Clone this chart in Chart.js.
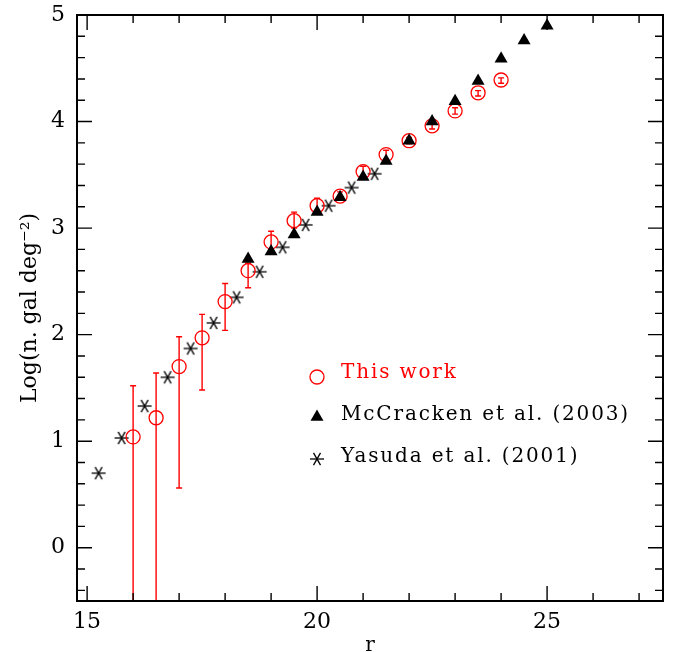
<!DOCTYPE html>
<html>
<head>
<meta charset="utf-8">
<script src="https://cdn.jsdelivr.net/npm/chart.js@4"></script>
<style>
  html, body { margin: 0; padding: 0; background: #fff; }
  #wrap { width: 681px; height: 652px; }
</style>
</head>
<body>
<div id="wrap"><canvas id="chart" width="681" height="652"></canvas></div>
<script>
// This work (red circles, with error bars)
const thisWorkX = [16, 16.5, 17, 17.5, 18, 18.5, 19, 19.5, 20, 20.5, 21, 21.5, 22, 22.5, 23, 23.5, 24];
const thisWorkY = [1.04, 1.22, 1.70, 1.97, 2.31, 2.60, 2.87, 3.07, 3.21, 3.30, 3.53, 3.69, 3.82, 3.96, 4.10, 4.27, 4.39];
const thisWorkHi = [1.52, 1.64, 1.98, 2.19, 2.48, 2.67, 2.97, 3.15, 3.28, 3.34, 3.58, 3.73, 3.85, 3.99, 4.13, 4.29, 4.41];
const thisWorkLo = [-2, -2, 0.56, 1.48, 2.04, 2.44, 2.77, 3.00, 3.14, 3.26, 3.48, 3.65, 3.79, 3.93, 4.07, 4.24, 4.36];

// McCracken et al. (2003)
const mcX = [18.5, 19, 19.5, 20, 20.5, 21, 21.5, 22, 22.5, 23, 23.5, 24, 24.5, 25];
const mcY = [2.71, 2.78, 2.94, 3.15, 3.29, 3.48, 3.63, 3.82, 4.00, 4.19, 4.38, 4.59, 4.76, 4.90];

// Yasuda et al. (2001)
const yasX = [15.25, 15.75, 16.25, 16.75, 17.25, 17.75, 18.25, 18.75, 19.25, 19.75, 20.25, 20.75, 21.25];
const yasY = [0.70, 1.03, 1.33, 1.60, 1.87, 2.11, 2.35, 2.59, 2.82, 3.03, 3.21, 3.38, 3.51];

const xMajor = [15, 20, 25];
const yMajor = [0, 1, 2, 3, 4, 5];

const RED = '#ff0000';
const SERIF = '"DejaVu Serif", "Liberation Serif", serif';

const pts = (xs, ys) => xs.map((x, i) => ({ x: x, y: ys[i] }));

// asterisk marker (horizontal bar + X)
function makeStar(size) {
  const c = document.createElement('canvas');
  c.width = size; c.height = size;
  const g = c.getContext('2d');
  g.strokeStyle = '#000';
  g.lineWidth = 1.3;
  const m = size / 2, r = size / 2 - 1;
  [0, 60, 120].forEach(a => {
    const t = a * Math.PI / 180;
    g.beginPath();
    g.moveTo(m - r * Math.cos(t), m - r * Math.sin(t));
    g.lineTo(m + r * Math.cos(t), m + r * Math.sin(t));
    g.stroke();
  });
  return c;
}
const star = makeStar(16);

const errorBars = {
  id: 'errorBars',
  beforeDatasetsDraw(chart) {
    const { ctx, chartArea: a } = chart;
    const ys = chart.scales.y;
    const meta = chart.getDatasetMeta(0);
    ctx.save();
    ctx.beginPath();
    ctx.rect(a.left, a.top, a.right - a.left, a.bottom - a.top);
    ctx.clip();
    ctx.strokeStyle = RED;
    ctx.lineWidth = 1.4;
    meta.data.forEach((p, i) => {
      const top = ys.getPixelForValue(thisWorkHi[i]);
      const bot = ys.getPixelForValue(thisWorkLo[i]);
      ctx.beginPath();
      ctx.moveTo(p.x, top); ctx.lineTo(p.x, bot);
      ctx.moveTo(p.x - 3, top); ctx.lineTo(p.x + 3, top);
      ctx.moveTo(p.x - 3, bot); ctx.lineTo(p.x + 3, bot);
      ctx.stroke();
    });
    ctx.restore();
  }
};

// box with inward major/minor ticks on all four sides
const frame = {
  id: 'frame',
  afterDatasetsDraw(chart) {
    const { ctx, chartArea: a, scales } = chart;
    ctx.save();
    ctx.strokeStyle = '#000';
    ctx.lineWidth = 1.4;
    const tickX = (v, len) => {
      const px = scales.x.getPixelForValue(v);
      ctx.beginPath();
      ctx.moveTo(px, a.bottom); ctx.lineTo(px, a.bottom - len);
      ctx.moveTo(px, a.top); ctx.lineTo(px, a.top + len);
      ctx.stroke();
    };
    const tickY = (v, len) => {
      const py = scales.y.getPixelForValue(v);
      ctx.beginPath();
      ctx.moveTo(a.left, py); ctx.lineTo(a.left + len, py);
      ctx.moveTo(a.right, py); ctx.lineTo(a.right - len, py);
      ctx.stroke();
    };
    for (let v = 15; v <= 27; v++) tickX(v, xMajor.includes(v) ? 15 : 8);
    for (let k = -2; k <= 25; k++) {
      const v = k / 5;
      tickY(v, Number.isInteger(v) ? 15 : 8);
    }
    ctx.lineWidth = 2;
    ctx.strokeRect(a.left, a.top, a.right - a.left, a.bottom - a.top);
    ctx.restore();
  }
};

const legendItems = [
  { text: 'This work', color: RED, ds: 0 },
  { text: 'McCracken et al. (2003)', color: '#000', ds: 1 },
  { text: 'Yasuda et al. (2001)', color: '#000', ds: 2 }
];

const insideLegend = {
  id: 'insideLegend',
  afterDraw(chart) {
    const { ctx } = chart;
    ctx.save();
    ctx.font = '20px ' + SERIF;
    const natural = ctx.measureText('McCracken et al. (2003)').width;
    const spacing = Math.max(0, (289 - natural) / 23);
    ctx.letterSpacing = spacing.toFixed(2) + 'px';
    ctx.textBaseline = 'alphabetic';
    legendItems.forEach((it, i) => {
      const y = 378 + i * 42;
      const d = chart.data.datasets[it.ds];
      ctx.strokeStyle = d.borderColor;
      ctx.fillStyle = d.backgroundColor;
      ctx.lineWidth = d.borderWidth;
      Chart.helpers.drawPoint(ctx, {
        pointStyle: d.pointStyle, radius: d.pointRadius, borderWidth: d.borderWidth, rotation: 0
      }, 317, it.ds === 0 ? y - 1 : y - 3);
      ctx.fillStyle = it.color;
      ctx.fillText(it.text, 341, y);
    });
    ctx.restore();
  }
};

new Chart(document.getElementById('chart'), {
  type: 'scatter',
  data: {
    datasets: [
      {
        label: 'This work',
        data: pts(thisWorkX, thisWorkY),
        pointStyle: 'circle',
        pointRadius: 7,
        borderWidth: 1.3,
        borderColor: RED,
        backgroundColor: 'rgba(0,0,0,0)',
        order: 1
      },
      {
        label: 'McCracken et al. (2003)',
        data: pts(mcX, mcY),
        pointStyle: 'triangle',
        pointRadius: 7.5,
        borderWidth: 0,
        borderColor: '#000',
        backgroundColor: '#000',
        order: 0
      },
      {
        label: 'Yasuda et al. (2001)',
        data: pts(yasX, yasY),
        pointStyle: star,
        pointRadius: 7,
        borderWidth: 0,
        borderColor: '#000',
        backgroundColor: '#000',
        order: 2
      }
    ]
  },
  options: {
    responsive: false,
    animation: false,
    events: [],
    layout: { padding: { top: 15, right: 18, left: 0, bottom: 0 } },
    plugins: { legend: { display: false }, tooltip: { enabled: false } },
    scales: {
      x: {
        type: 'linear',
        min: 14.78,
        max: 27.52,
        grid: { display: false, drawTicks: false },
        border: { display: false },
        afterBuildTicks: s => { s.ticks = xMajor.map(v => ({ value: v })); },
        afterFit: s => { s.height = 51; s.paddingLeft = 0; s.paddingRight = 0; },
        ticks: { color: '#000', font: { family: SERIF, size: 22 }, padding: 8, maxRotation: 0 },
        title: { display: true, text: 'r', color: '#000', font: { family: SERIF, size: 20 }, padding: { top: -6, bottom: -6 } }
      },
      y: {
        type: 'linear',
        min: -0.5,
        max: 5,
        grid: { display: false, drawTicks: false },
        border: { display: false },
        afterBuildTicks: s => { s.ticks = yMajor.map(v => ({ value: v })); },
        afterFit: s => { s.width = 77; s.paddingTop = 0; s.paddingBottom = 0; },
        ticks: { color: '#000', font: { family: SERIF, size: 22 }, padding: 12 },
        title: { display: true, text: 'Log(n. gal deg\u207B\u00B2)', color: '#000', font: { family: SERIF, size: 22 }, padding: { top: 17, bottom: 0 } }
      }
    }
  },
  plugins: [errorBars, frame, insideLegend]
});
</script>
</body>
</html>
